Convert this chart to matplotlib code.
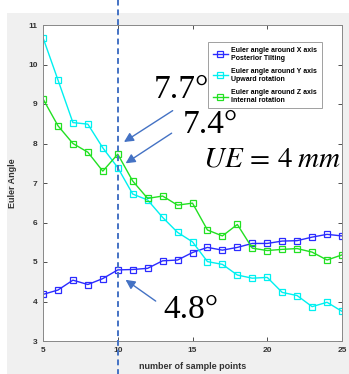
import numpy as np
import matplotlib
matplotlib.use("Agg")
import matplotlib.pyplot as plt
from matplotlib.patches import Rectangle

# data
samples = list(range(5, 26))
euler_x = [4.18, 4.29, 4.54, 4.43, 4.58, 4.80, 4.81, 4.84, 5.03, 5.05, 5.24,
           5.37, 5.30, 5.37, 5.47, 5.47, 5.53, 5.54, 5.63, 5.70, 5.66]
euler_y = [10.68, 9.61, 8.53, 8.49, 7.89, 7.39, 6.72, 6.57, 6.13, 5.75, 5.51,
           5.01, 4.94, 4.67, 4.59, 4.61, 4.23, 4.15, 3.87, 3.98, 3.75]
euler_z = [9.13, 8.45, 8.00, 7.78, 7.30, 7.73, 7.05, 6.61, 6.67, 6.44, 6.49,
           5.81, 5.66, 5.95, 5.35, 5.29, 5.32, 5.34, 5.25, 5.05, 5.18]
labels = ["Euler angle around X axis\nPosterior Tilting",
          "Euler angle around Y axis\nUpward rotation",
          "Euler angle around Z axis\nInternal rotation"]
colors = ["#2b2bff", "#00f0f0", "#22e022"]

plt.rcParams["font.family"] = "Liberation Sans"
plt.rcParams["mathtext.fontset"] = "stix"

W, H = 349, 374
fig = plt.figure(figsize=(W / 100, H / 100), dpi=100, facecolor="white")
# grey matlab window background
fig.patches.append(Rectangle((7 / W, 0), 1, (H - 13) / H, transform=fig.transFigure,
                             facecolor="#f0f0f0", edgecolor="none", zorder=-10))
ax = fig.add_axes([43 / W, (H - 341) / H, 299 / W, 316 / H])

for vals, lab, c in zip([euler_x, euler_y, euler_z], labels, colors):
    ax.plot(samples, vals, color=c, lw=1, marker="s", markersize=4,
            markerfacecolor="none", markeredgewidth=0.9, label=lab)

ax.set_xlim(5, 25)
ax.set_ylim(3, 11)
ax.set_xticks([5, 10, 15, 20, 25])
ax.set_yticks(range(3, 12))
ax.tick_params(direction="in", length=3, width=0.6, labelsize=6, colors="#333333",
               top=True, right=True, pad=4)
for t in ax.get_xticklabels() + ax.get_yticklabels():
    t.set_fontweight("bold")
for s in ax.spines.values():
    s.set_color("#888888")
    s.set_linewidth(0.7)
ax.set_xlabel("number of sample points", fontsize=6.5, fontweight="bold", color="#333333", labelpad=6)
ax.set_ylabel("Euler Angle", fontsize=6.5, fontweight="bold", color="#333333", labelpad=8)

ax.axvline(10, ymin=-0.11, ymax=1.09, clip_on=False, color="#4472c4", lw=1.4,
           ls=(0, (3, 2)), zorder=5)

leg = ax.legend(loc="upper left", bbox_to_anchor=((205 - 43) / 299, (341 - 39) / 316),
                prop={"weight": "bold", "size": 5}, frameon=True, fancybox=False,
                handlelength=2.2, borderpad=0.6, labelspacing=0.9, handletextpad=0.5)
leg.get_frame().set_edgecolor("#888888")
leg.get_frame().set_linewidth(0.7)

arrow = dict(arrowstyle="-|>", color="#4472c4", lw=1, mutation_scale=14)
ax.annotate("", xy=(10.26, 8.0), xytext=(13.83, 8.87), arrowprops=arrow)
ax.annotate("", xy=(10.37, 7.46), xytext=(13.76, 8.30), arrowprops=arrow)
ax.annotate("", xy=(10.37, 4.59), xytext=(12.69, 3.97), arrowprops=arrow)

big = dict(fontsize=24, family="Liberation Serif", va="baseline", ha="left")
ax.text(12.42, 9.15, "7.7°", **big)
ax.text(14.36, 8.27, "7.4°", **big)
ax.text(13.03, 3.58, "4.8°", **big)
ax.text(15.7, 7.41, r"$UE\,=\,4\;mm$", fontsize=21, va="baseline", ha="left")

fig.savefig("out.png", dpi=100, facecolor="white")
